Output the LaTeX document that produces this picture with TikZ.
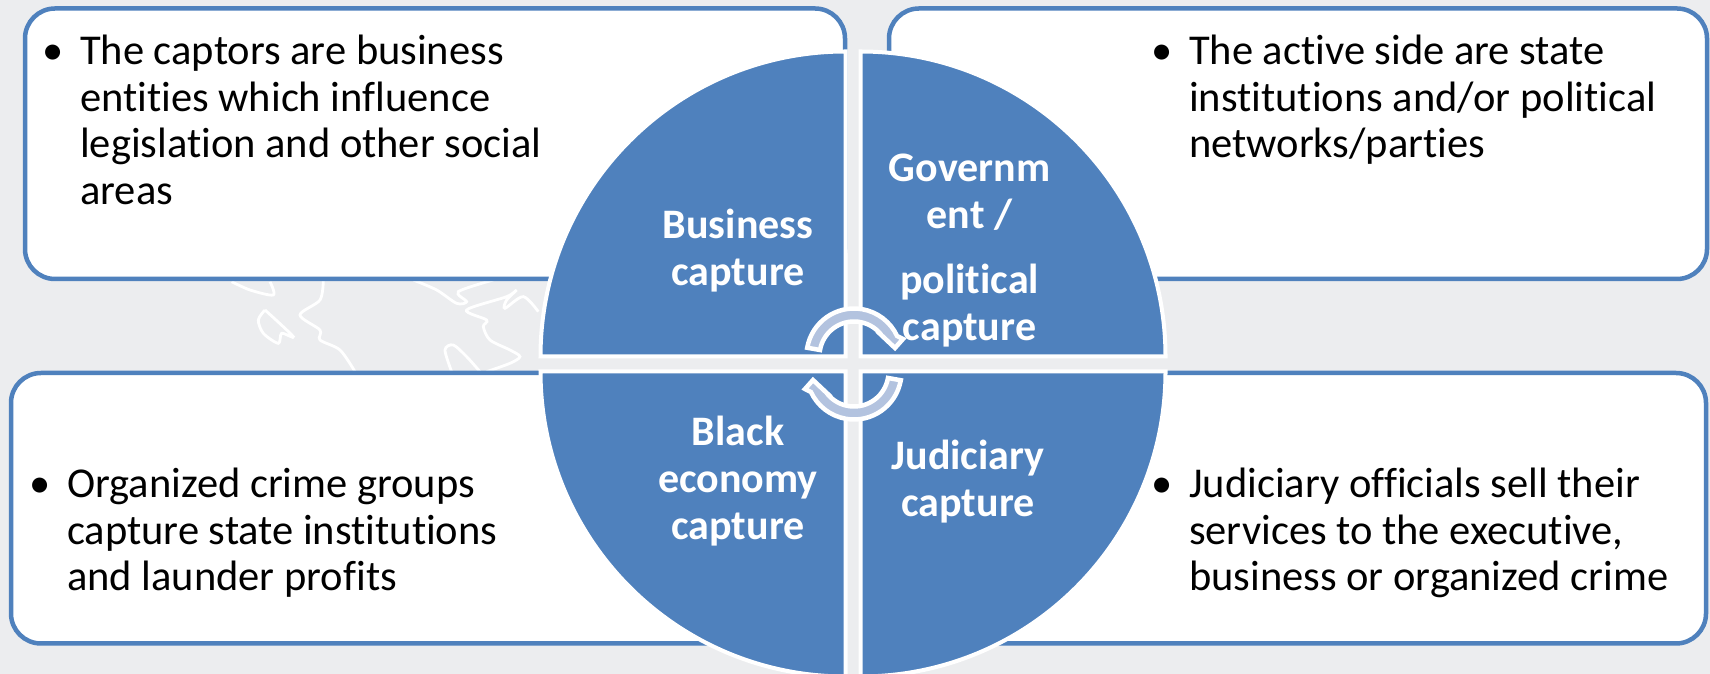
\documentclass[tikz,border=0pt]{standalone}
\usepackage{fontspec}
\usetikzlibrary{calc}
\setmainfont{Carlito}[Ligatures=NoCommon]
\definecolor{bgc}{HTML}{ECEDEF}
\definecolor{blu}{HTML}{4F81BD}
\definecolor{lightb}{HTML}{B3C3DF}
\tikzset{
  infobox/.style={draw=blu,line width=4.5pt,fill=white!98!bgc,rounded corners=30pt,anchor=south west,inner sep=0pt,outer sep=0pt},
  quad/.style={fill=blu,draw=white,line width=4pt},
  bodytext/.style={anchor=north west,align=left,inner sep=0pt,text=black,font=\fontsize{42.5}{46.5}\selectfont},
  quadtext/.style={align=center,inner sep=0pt,text=white,font=\fontsize{42}{47}\selectfont\bfseries},
  cyc/.style={fill=lightb,draw=white,line width=4.5pt,line join=miter},
  maplines/.style={draw=white,line width=2.8pt,smooth}
}
\newcommand{\blt}{\llap{\textbullet\hspace{17pt}}}
\begin{document}
\begin{tikzpicture}[x=1pt,y=1pt]
\useasboundingbox (0,0) rectangle (1710,674);
\clip (0,0) rectangle (1710,674);
\fill[bgc] (0,0) rectangle (1710,674);
% faint map in the background
\begin{scope}[shift={(150,434)},x=0.3333pt,y=-0.3333pt]
\draw[maplines] plot coordinates {(245,125) (300,150) (370,165) (360,125)};
\draw[maplines] plot coordinates {(345,210) (325,240) (340,280) (385,310) (395,280) (430,290) (345,210)};
\draw[maplines] plot coordinates {(520,120) (510,180) (450,225) (510,270) (510,300) (570,330) (615,395)};
\draw[maplines] plot coordinates {(790,120) (860,150) (920,190) (950,185) (925,155) (1030,120)};
\draw[maplines] plot coordinates {(1165,215) (1120,170) (1065,205) (1070,180) (1100,150) (1070,170) (950,210) (1010,240) (1000,260) (1020,300) (1080,330) (1110,350) (1080,370) (1010,395)};
\draw[maplines] plot coordinates {(905,395) (885,330) (910,315) (950,350) (990,395)};
\end{scope}
% boxes
\node[infobox,minimum width=820pt,minimum height=270.5pt] (tl) at (25,395) {};
\node[infobox,minimum width=818pt,minimum height=270.5pt] (tr) at (889,395) {};
\node[infobox,minimum width=800pt,minimum height=270.5pt] (bl) at (11,30.5) {};
\node[infobox,minimum width=840pt,minimum height=270.5pt] (br) at (866,30.5) {};
% quadrants
\draw[quad] (845.5,317.5) -- ++(-305,0) arc (180:90:305) -- cycle;
\draw[quad] (860.5,317.5) -- ++(0,305) arc (90:0:305) -- cycle;
\draw[quad] (845.5,302.5) -- ++(0,-305) arc (270:180:305) -- cycle;
\draw[quad] (860.5,302.5) -- ++(305,0) arc (0:-90:305) -- cycle;
% body text
\node[bodytext] (t1) at (80,639) {\blt The captors are business\\entities which influence\\legislation and other social\\areas};
\node[bodytext] (t2) at (1189,639) {\blt The active side are state\\institutions and/or political\\networks/parties};
\node[bodytext] (t3) at (67,206) {\blt Organized crime groups\\capture state institutions\\and launder profits};
\node[bodytext] (t4) at (1189,206) {\blt Judiciary officials sell their\\services to the executive,\\business or organized crime};
% quadrant labels
\node[quadtext] (q1) at (738,423.5) {Business\\capture};
\node[quadtext] (q2) at (969.5,423) {Governm\\ent /\\[18pt]political\\capture};
\node[quadtext] (q3) at (738,192.5) {Black\\economy\\capture};
\node[quadtext] (q4) at (968,192) {Judiciary\\capture};
% cycle arrows
\coordinate (c1) at (854,318);
\coordinate (c2) at (854,302);
\draw[cyc] ($(c1)+(170:47.5)$) arc (170:25:47.5) -- (903,335) -- (895,326) -- (877,343) -- ($(c1)+(38:34.5)$) arc (38:170:34.5) -- cycle;
\draw[cyc] ($(c2)+(-10:47.5)$) arc (-10:-155:47.5) -- (805,285) -- (813,294) -- (831,277) -- ($(c2)+(-142:34.5)$) arc (-142:-10:34.5) -- cycle;
\end{tikzpicture}
\end{document}
